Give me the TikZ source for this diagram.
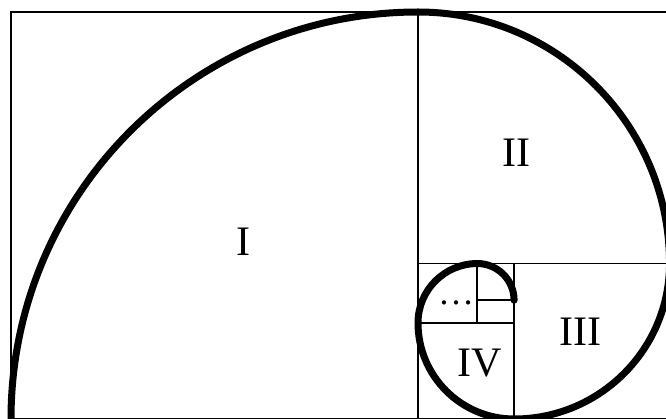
\documentclass[tikz,border=0pt]{standalone}
\usepackage{fontspec}
\setmainfont{Liberation Serif}
\begin{document}
\begin{tikzpicture}[x=1pt,y=1pt,
  frame/.style={line width=1.8pt,black},
  spiral/.style={line width=7pt,black,line cap=round},
  numeral/.style={anchor=base,inner sep=0pt,font=\fontsize{42}{50}\selectfont}]
\useasboundingbox (0,0) rectangle (666,418);
\clip (0,0) rectangle (666,418);
\fill[white] (0,0) rectangle (666,418);
% squares
\draw[frame] (11,-1) rectangle (669.54,406);
\draw[frame] (418,-1) -- (418,406);
\draw[frame] (418,154.46) -- (669.54,154.46);
\draw[frame] (514.08,-1) -- (514.08,154.46);
\draw[frame] (418,95.08) -- (514.08,95.08);
\draw[frame] (477.38,95.08) -- (477.38,154.46);
\draw[frame] (477.38,117.76) -- (514.08,117.76);
% spiral
\coordinate (s0) at (11,-1);
\draw[spiral] (s0)
  arc[start angle=180,end angle=90,radius=407]
  arc[start angle=90,end angle=0,radius=251.54]
  arc[start angle=0,end angle=-90,radius=155.46]
  arc[start angle=-90,end angle=-180,radius=96.08]
  arc[start angle=-180,end angle=-270,radius=59.38]
  arc[start angle=-270,end angle=-360,radius=36.70];
% labels
\node[numeral] (lI) at (243,163) {I};
\node[numeral] (lII) at (516,251) {II};
\node[numeral] (lIII) at (580,73) {III};
\node[numeral] (lIV) at (480,42) {IV};
\node[anchor=base,inner sep=0pt,font=\fontsize{36}{40}\selectfont] (ldots) at (456,114) {…};
\end{tikzpicture}
\end{document}
